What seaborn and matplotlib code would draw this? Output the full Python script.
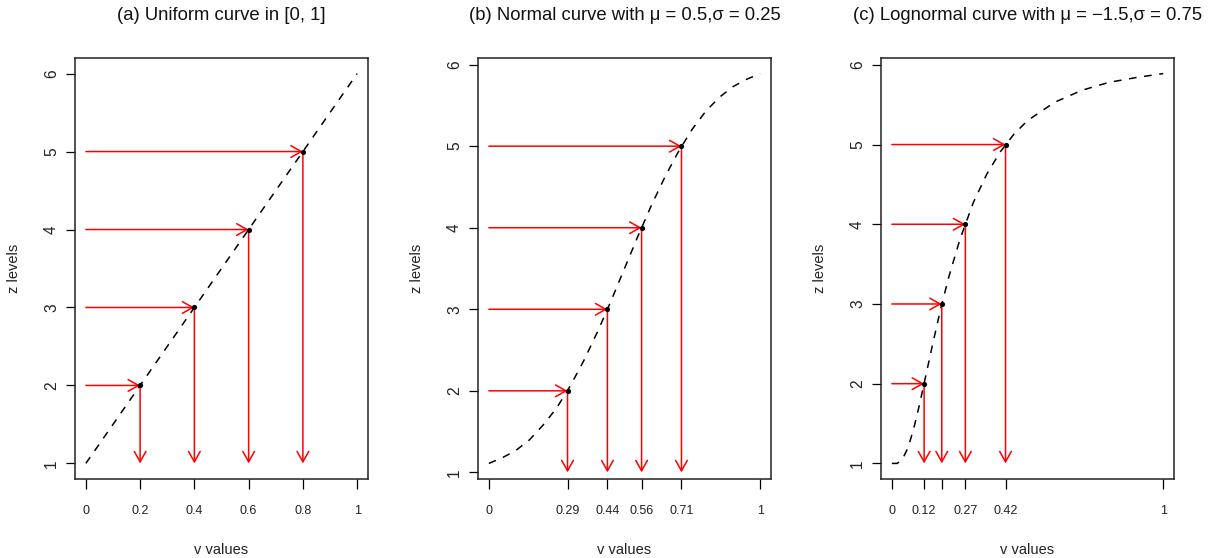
import numpy as np
import matplotlib
matplotlib.use("Agg")
import matplotlib.pyplot as plt
import seaborn as sns

# curves (v values -> z levels)
uniform_v = [0.0, 1.0]
uniform_z = [1.0, 6.0]

normal_v = [0.0, 0.05, 0.10, 0.15, 0.20, 0.25, 0.30, 0.35, 0.40, 0.45, 0.50,
            0.55, 0.60, 0.65, 0.70, 0.75, 0.80, 0.85, 0.90, 0.95, 1.0]
normal_z = [1.11, 1.18, 1.27, 1.40, 1.58, 1.79, 2.06, 2.37, 2.72, 3.10, 3.50,
            3.90, 4.28, 4.63, 4.94, 5.21, 5.43, 5.60, 5.73, 5.82, 5.89]

lognorm_v = [0.0, 0.02, 0.04, 0.06, 0.08, 0.10, 0.12, 0.15, 0.18, 0.21, 0.25,
             0.30, 0.35, 0.40, 0.45, 0.50, 0.60, 0.70, 0.80, 0.90, 1.0]
lognorm_z = [1.00, 1.00, 1.06, 1.20, 1.43, 1.71, 2.02, 2.49, 2.94, 3.34, 3.80,
             4.27, 4.63, 4.91, 5.13, 5.30, 5.53, 5.68, 5.78, 5.84, 5.89]

# level points on each curve
levels = [2, 3, 4, 5]
uniform_pts = [0.2, 0.4, 0.6, 0.8]
normal_pts = [0.29, 0.437, 0.563, 0.71]
lognorm_pts = [0.119, 0.184, 0.271, 0.419]

# x ticks and labels
uniform_ticks = [0, 0.2, 0.4, 0.6, 0.8, 1]
uniform_labels = ["0", "0.2", "0.4", "0.6", "0.8", "1"]
normal_ticks = [0, 0.29, 0.437, 0.563, 0.71, 1]
normal_labels = ["0", "0.29", "0.44", "0.56", "0.71", "1"]
lognorm_ticks = [0, 0.119, 0.184, 0.271, 0.419, 1]
lognorm_labels = ["0", "0.12", "", "0.27", "0.42", "1"]
y_ticks = [1, 2, 3, 4, 5, 6]

titles = ["(a) Uniform curve in [0, 1]",
          "(b) Normal curve with μ = 0.5,σ = 0.25",
          "(c) Lognormal curve with μ = \u22121.5,σ = 0.75"]

sns.set_theme(style="ticks")
plt.rcParams["font.family"] = ["Liberation Sans", "DejaVu Sans"]

W, H = 1212, 558
fig = plt.figure(figsize=(W / 100, H / 100), dpi=100)

panels = [
    (uniform_v, uniform_z, uniform_pts, uniform_ticks, uniform_labels, 75),
    (normal_v, normal_z, normal_pts, normal_ticks, normal_labels, 478),
    (lognorm_v, lognorm_z, lognorm_pts, lognorm_ticks, lognorm_labels, 881),
]

box_w, box_top, box_bot = 293, 58, 479

for i, (cv, cz, pts, xt, xl, left) in enumerate(panels):
    ax = fig.add_axes([left / W, (H - box_bot) / H, box_w / W, (box_bot - box_top) / H])
    ax.set_facecolor("white")

    # dashed curve
    sns.lineplot(x=cv, y=cz, ax=ax, color="black", lw=1.1,
                 linestyle=(0, (5, 5)), sort=False, estimator=None)

    # red arrows: horizontal from v=0, then down to z=1
    for v, z in zip(pts, levels):
        props = dict(arrowstyle="->,head_length=0.75,head_width=0.42",
                     color="red", lw=1.1, shrinkA=0, shrinkB=0, mutation_scale=10)
        ax.annotate("", xy=(v, z), xytext=(0, z), arrowprops=props)
        ax.annotate("", xy=(v, 1), xytext=(v, z), arrowprops=props)

    sns.scatterplot(x=pts, y=levels, ax=ax, color="black", s=14,
                    edgecolor="black", linewidth=0, zorder=5)

    ax.margins(x=0.04, y=0.04)
    ax.set_xticks(xt)
    ax.set_xticklabels(xl, fontsize=9)
    ax.set_yticks(y_ticks)
    ax.set_yticklabels([str(t) for t in y_ticks], fontsize=11.2, rotation=90, va="center")
    ax.tick_params(axis="x", length=7.2, width=0.9, pad=11.5, color="black", labelcolor="#222222")
    ax.tick_params(axis="y", length=6.5, width=0.9, pad=5, color="black", labelcolor="#222222")
    for sp in ax.spines.values():
        sp.set_visible(True)
        sp.set_linewidth(1.1)
        sp.set_color("#222222")
    ax.grid(False)

    ax.set_xlabel("v values", fontsize=10.5, color="#222222")
    ax.xaxis.set_label_coords(0.5, (box_bot - 550) / (box_bot - box_top))
    ax.xaxis.label.set_verticalalignment("center")
    ax.set_ylabel("z levels", fontsize=10.5, color="#222222")
    ax.yaxis.set_label_coords((14 - 75) / box_w, 0.5)
    ax.yaxis.label.set_verticalalignment("center")

    ax.set_title(titles[i], fontsize=13.3, color="#111111",
                 y=(box_bot - 16) / (box_bot - box_top), va="center", pad=0)

fig.savefig("out.png", dpi=100)
